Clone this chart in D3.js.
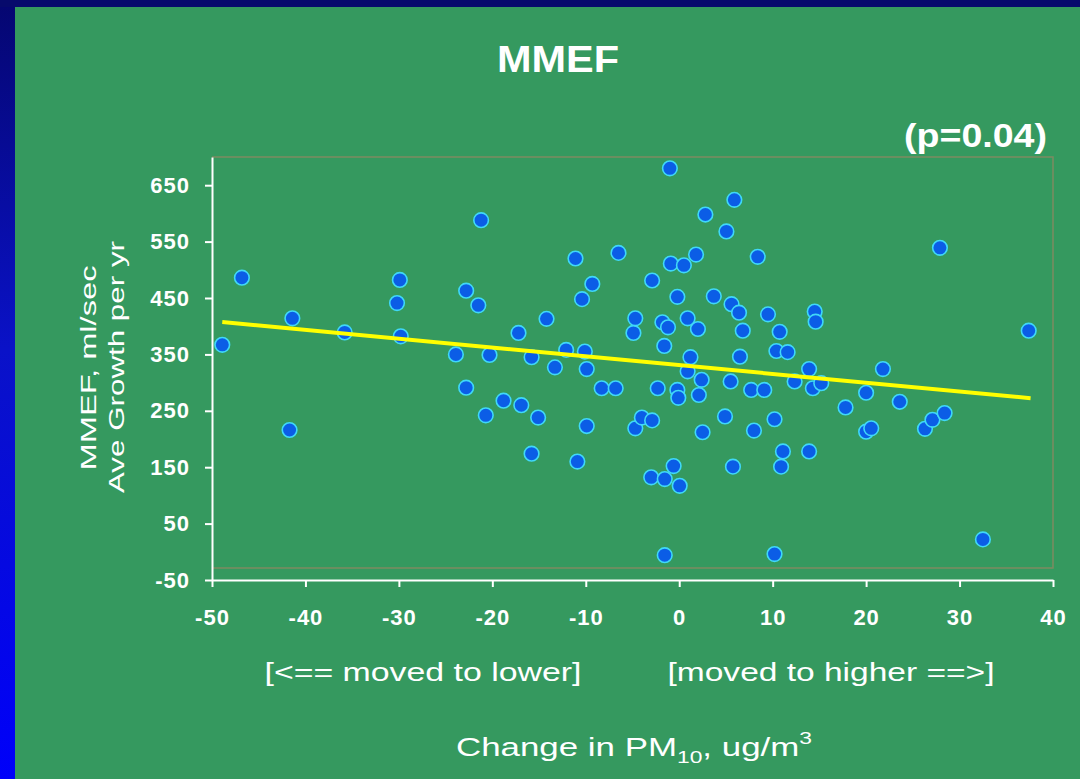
<!DOCTYPE html>
<html>
<head>
<meta charset="utf-8">
<script src="https://cdn.jsdelivr.net/npm/d3@7"></script>
<style>
  html, body { margin: 0; padding: 0; background: #35995f; }
  svg { display: block; }
  .tick-label { font-family: "Liberation Sans", Arial, sans-serif; font-weight: bold; font-size: 22px; letter-spacing: 1px; fill: #ffffff; }
  .axis-title { font-family: "Liberation Sans", Arial, sans-serif; font-size: 26px; fill: #ffffff; }
</style>
</head>
<body>
<div id="chart"></div>
<script>
(function () {
  "use strict";

  // change in PM10 (ug/m3) and MMEF growth (ml/sec per yr), one entry per child
  var pmChange = [
    -48.9, -46.8, -41.4, -41.7, -35.8, -30.2, -29.9, -29.8, -22.8, -21.5,
    -21.2, -23.9, -22.8, -20.7, -20.3, -18.8, -17.2, -16.9, -15.8, -15.8,
    -15.1, -14.2, -13.3, -12.1, -11.1, -10.9, -10.4, -10.1, -9.9, -9.9,
    -9.3, -8.3, -6.8, -6.5, -4.7, -4.9, -4.7, -4.0, -2.9, -3.0,
    -2.9, -2.3, -1.8, -1.55, -1.6, -1.55, -1.0, -0.9, -1.2, -0.6,
    -0.2, -0.2, -0.1, 0.05, 0.5, 0.9, 1.2, 1.8, 2.0, 2.1,
    2.4, 2.5, 2.8, 3.7, 4.9, 5.05, 5.5, 5.75, 5.9, 5.6,
    6.5, 6.4, 6.8, 7.7, 8.0, 8.4, 9.1, 9.5, 10.2, 10.2,
    10.4, 10.75, 11.1, 10.9, 11.6, 12.35, 13.9, 13.9, 14.5, 14.6,
    14.3, 15.2, 17.8, 20.0, 20.0, 20.55, 21.8, 23.6, 26.3, 27.1,
    28.4, 27.9, 32.5, 37.4, 0.9
  ];
  var mmefGrowth = [
    367, 486, 414, 216, 389, 441, 482, 382, 463, 437,
    588, 350, 291, 242, 349, 268, 388, 260, 174, 345,
    238, 413, 327, 358, 520, 160, 448, 355, 324, 223,
    475, 290, 290, 530, 219, 388, 414, 238, 233, 132,
    481, 290, 407, 129, 365, -6, 680, 511, 398, 152,
    452, 287, 273, 117, 508, 414, 345, 527, 395, 278,
    305, 212, 598, 453, 240, 568, 302, 151, 624, 439,
    346, 424, 392, 287, 215, 523, 287, 421, 235, -4,
    356, 390, 178, 151, 354, 302, 324, 178, 426, 408,
    290, 299, 256, 282, 213, 219, 324, 266, 218, 234,
    246, 539, 22, 392, 320
  ];

  // tick values
  var xTicks = [-50, -40, -30, -20, -10, 0, 10, 20, 30, 40];
  var yTicks = [-50, 50, 150, 250, 350, 450, 550, 650];

  // fitted line
  var fitIntercept = 331;
  var fitSlope = -1.56;
  var fitRange = [-48.9, 37.6];

  var width = 1080, height = 779;
  var font = "'Liberation Sans', Arial, sans-serif";

  var svg = d3.select("#chart")
    .append("svg")
    .attr("width", width)
    .attr("height", height);

  // background Setting
  var defs = svg.append("defs");
  var grad = defs.append("linearGradient")
    .attr("id", "sideBlue")
    .attr("x1", 0).attr("y1", 0).attr("x2", 0).attr("y2", 1);
  grad.append("stop").attr("offset", "0%").attr("stop-color", "#050670");
  grad.append("stop").attr("offset", "45%").attr("stop-color", "#0a12c8");
  grad.append("stop").attr("offset", "100%").attr("stop-color", "#0000fa");

  svg.append("rect").attr("width", width).attr("height", height).attr("fill", "#35995f");
  svg.append("rect").attr("x", 0).attr("y", 0).attr("width", 15).attr("height", height).attr("fill", "url(#sideBlue)");
  svg.append("rect").attr("x", 0).attr("y", 0).attr("width", width).attr("height", 7).attr("fill", "#070a6c");

  // scales
  var x = d3.scaleLinear().domain([-50, 40]).range([212, 1053]);
  var y = d3.scaleLinear().domain([-50, 700]).range([580, 157]);

  // faint plot area border
  svg.append("path")
    .attr("d", "M" + x(-50) + "," + y(700) + "H" + x(40) + "V568H" + x(-50))
    .attr("fill", "none")
    .attr("stroke", "#7d8a62")
    .attr("stroke-width", 1.5);

  // Axis Setting (plain hyphen for negatives, as on the slide)
  var plain = function (d) { return String(d); };
  var xAxis = svg.append("g")
    .attr("transform", "translate(0," + y(-50) + ")")
    .call(d3.axisBottom(x).tickValues(xTicks).tickFormat(plain).tickSize(7).tickPadding(22).tickSizeOuter(0));
  var yAxis = svg.append("g")
    .attr("transform", "translate(" + x(-50) + ",0)")
    .call(d3.axisLeft(y).tickValues(yTicks).tickFormat(plain).tickSize(7).tickPadding(15).tickSizeOuter(0));

  [xAxis, yAxis].forEach(function (g) {
    g.select(".domain").attr("stroke", "#ffffff").attr("stroke-width", 2);
    g.selectAll(".tick line").attr("stroke", "#ffffff").attr("stroke-width", 2);
    g.selectAll(".tick text").attr("class", "tick-label").attr("fill", "#ffffff");
  });

  // points
  var points = d3.zip(pmChange, mmefGrowth);
  svg.append("g")
    .selectAll("circle")
    .data(points)
    .enter()
    .append("circle")
    .attr("cx", function (d) { return x(d[0]); })
    .attr("cy", function (d) { return y(d[1]); })
    .attr("r", 7.3)
    .attr("fill", "#0b5de6")
    .attr("stroke", "#40d8f8")
    .attr("stroke-width", 1.6);

  // regression line
  var line = d3.line()
    .x(function (d) { return x(d); })
    .y(function (d) { return y(fitIntercept + fitSlope * d); });
  svg.append("path")
    .datum(fitRange)
    .attr("d", line)
    .attr("fill", "none")
    .attr("stroke", "#ffff00")
    .attr("stroke-width", 4);

  // Text Setting
  svg.append("text")
    .attr("x", 558).attr("y", 72)
    .attr("text-anchor", "middle")
    .attr("textLength", 122)
    .attr("lengthAdjust", "spacingAndGlyphs")
    .style("font-family", font)
    .style("font-weight", "bold")
    .style("font-size", "37px")
    .style("fill", "#ffffff")
    .text("MMEF");

  svg.append("text")
    .attr("x", 1047).attr("y", 147)
    .attr("text-anchor", "end")
    .attr("textLength", 143)
    .attr("lengthAdjust", "spacingAndGlyphs")
    .style("font-family", font)
    .style("font-weight", "bold")
    .style("font-size", "33px")
    .style("fill", "#ffffff")
    .text("(p=0.04)");

  function title(txt, xPos, yPos, len, rotate, size) {
    return svg.append("text")
      .attr("class", "axis-title")
      .attr("transform", "translate(" + xPos + "," + yPos + ")" + (rotate ? " rotate(-90)" : ""))
      .attr("text-anchor", "middle")
      .attr("textLength", len)
      .attr("lengthAdjust", "spacingAndGlyphs")
      .style("font-size", size + "px")
      .text(txt);
  }

  title("MMEF, ml/sec", 96, 368, 205, true, 22);
  title("Ave Growth per yr", 124, 367, 252, true, 22);
  title("[<== moved to lower]", 423, 681, 317, false, 26);
  title("[moved to higher ==>]", 831, 681, 327, false, 26);

  var xTitle = svg.append("text")
    .attr("class", "axis-title")
    .attr("x", 634).attr("y", 756)
    .attr("text-anchor", "middle")
    .attr("textLength", 356)
    .attr("lengthAdjust", "spacingAndGlyphs");
  xTitle.append("tspan").text("Change in PM");
  xTitle.append("tspan").attr("dy", 7).style("font-size", "17px").text("10");
  xTitle.append("tspan").attr("dy", -7).text(", ug/m");
  xTitle.append("tspan").attr("dy", -12).style("font-size", "17px").text("3");
}());
</script>
</body>
</html>
